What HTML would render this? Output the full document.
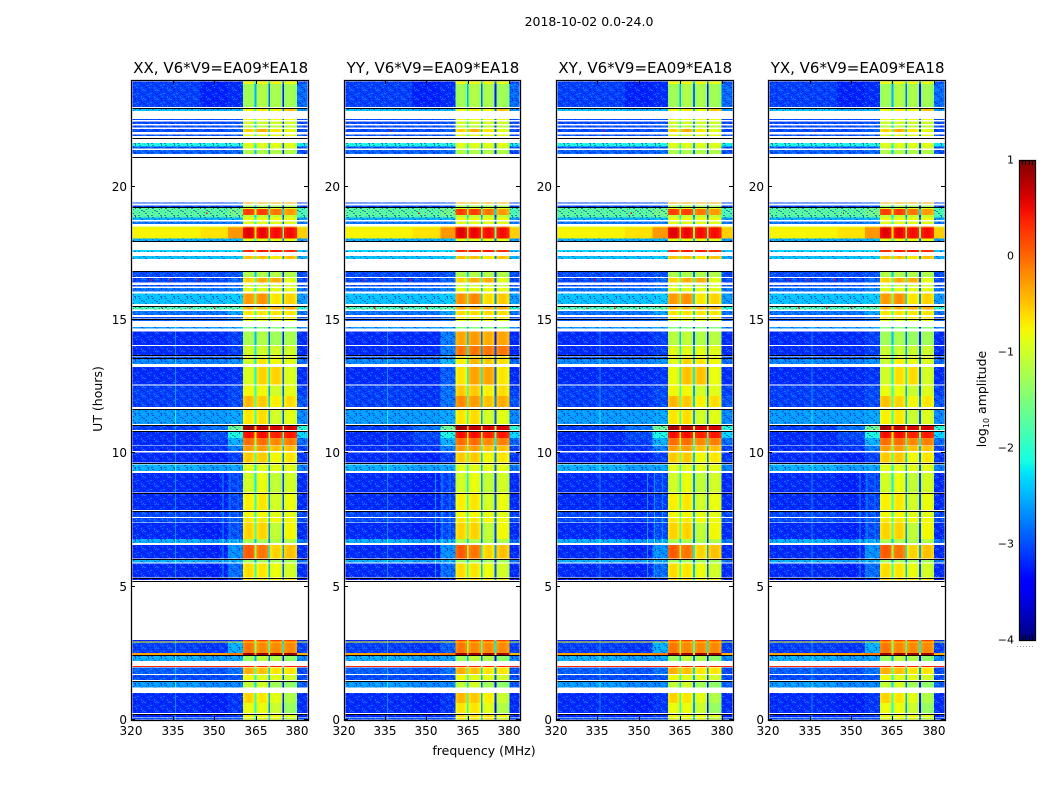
<!DOCTYPE html>
<html lang="en">
<head>
<meta charset="utf-8">
<title>2018-10-02 0.0-24.0</title>
<style>
html,body{margin:0;padding:0;background:#fff;width:1050px;height:800px;overflow:hidden}
svg{display:block}
text{font-family:"DejaVu Sans","Liberation Sans",sans-serif;fill:#000}
</style>
</head>
<body>
<svg id="chart" xmlns="http://www.w3.org/2000/svg" width="1050" height="800" viewBox="0 0 1050 800">
  <defs>
    <pattern id="speckle" width="13" height="9" patternUnits="userSpaceOnUse">
      <rect x="1" y="0" width="2" height="1" fill="#30b0ff" opacity=".45"/>
      <rect x="5" y="0" width="1" height="2" fill="#0000c8" opacity=".55"/>
      <rect x="9" y="1" width="2" height="1" fill="#0000c8" opacity=".5"/>
      <rect x="12" y="0" width="1" height="1" fill="#40d0ff" opacity=".45"/>
      <rect x="3" y="2" width="1" height="1" fill="#0000c8" opacity=".5"/>
      <rect x="7" y="3" width="2" height="1" fill="#40c0ff" opacity=".4"/>
      <rect x="11" y="3" width="2" height="1" fill="#0000d0" opacity=".5"/>
      <rect x="0" y="4" width="2" height="1" fill="#0000d0" opacity=".5"/>
      <rect x="4" y="4" width="2" height="1" fill="#30b0ff" opacity=".4"/>
      <rect x="9" y="5" width="1" height="1" fill="#0000c8" opacity=".5"/>
      <rect x="2" y="6" width="2" height="1" fill="#0000c8" opacity=".5"/>
      <rect x="6" y="6" width="1" height="1" fill="#50d0ff" opacity=".45"/>
      <rect x="11" y="6" width="1" height="2" fill="#50b0ff" opacity=".4"/>
      <rect x="0" y="8" width="1" height="1" fill="#50d0ff" opacity=".45"/>
      <rect x="4" y="8" width="2" height="1" fill="#0000c8" opacity=".5"/>
      <rect x="8" y="8" width="2" height="1" fill="#0000d0" opacity=".5"/>
    </pattern>
    <linearGradient id="jet-gradient" x1="0" y1="1" x2="0" y2="0"></linearGradient>
  </defs>
  <rect x="0" y="0" width="1050" height="800" fill="#fff"/>
  <text x="589" y="26" font-size="12.5" text-anchor="middle">2018-10-02 0.0-24.0</text>
  <text x="484" y="755" font-size="12.5" text-anchor="middle">frequency (MHz)</text>
  <text x="0" y="0" font-size="12.5" text-anchor="middle" transform="translate(102,399) rotate(-90)">UT (hours)</text>
  <text x="0" y="0" font-size="12.5" text-anchor="middle" transform="translate(986,399) rotate(-90)">log<tspan font-size="8" dy="3">10</tspan><tspan dy="-3"> amplitude</tspan></text>
  <g id="panels"></g>
  <g id="colorbar"></g>
</svg>
<script>
/* Panel titles and axis ticks */
const panelTitles = ["XX, V6*V9=EA09*EA18", "YY, V6*V9=EA09*EA18", "XY, V6*V9=EA09*EA18", "YX, V6*V9=EA09*EA18"];
const freqTicks = [320, 335, 350, 365, 380];
const utTicks = [0, 5, 10, 15, 20];
const colorbarTicks = [-4, -3, -2, -1, 0, 1];

/* Time bands with data, in UT hours */
const utRanges = [
[0,.05],[.05,.1],[.12,.22],[.27,.64],[.64,1.02],[1.21,1.43],[1.5,1.68],[1.73,1.97],[1.98,2.03],[2.22,2.4],
[2.44,2.52],[2.52,2.9],[2.9,2.94],[2.94,3],[5.25,5.31],[5.35,5.86],[5.9,6.03],[6.06,6.57],[6.63,6.78],[6.78,7.39],
[7.41,7.57],[7.62,7.83],[7.88,8.48],[8.54,9.26],[9.34,9.59],[9.65,10.04],[10.08,10.28],[10.3,10.58],[10.58,10.84],[10.88,11.05],
[11.1,11.65],[11.73,12.15],[12.15,12.54],[12.59,13.23],[13.35,13.54],[13.58,13.64],[13.69,14.03],[14.06,14.56],[14.69,14.74],[14.96,15.03],
[15.06,15.12],[15.19,15.34],[15.4,15.48],[15.6,16],[16.06,16.2],[16.25,16.31],[16.4,16.58],[16.62,16.82],[17.29,17.4],[17.55,17.63],
[17.97,18.06],[18.06,18.46],[18.46,18.51],[18.6,18.7],[18.75,18.84],[18.84,18.94],[18.94,19.16],[19.16,19.22],[19.22,19.3],[19.36,19.41],
[21.22,21.38],[21.44,21.5],[21.5,21.63],[21.9,21.95],[22.05,22.17],[22.22,22.3],[22.35,22.44],[22.5,22.54],[22.84,22.93],[22.99,23.85],[23.85,24]
];

/* Log10 amplitude outside the passband: 320-345, 345-355, 355-360.5, 380-384 MHz */
const offBandAmp = [
[-3,-3,-3,-3],[-3,-3,-3,-3],[-3.2,-3.2,-3.1,-3.2],[-3.15,-3.2,-3.1,-3.15],[-3.15,-3.2,-3.1,-3.15],[-2.6,-2.7,-2.7,-2.9],[-3,-3,-2.95,-3],[-2.9,-2.95,-2.8,-3],[.35,.35,.35,.35],[-2.5,-2.6,-2.55,-2.7],
[-.3,-.3,-.1,-.4],[-3.05,-3.1,-2.5,-3.05],[-.8,-.8,-.8,-1],[-3.2,-3.2,-3.1,-3.2],[-3.3,-3.3,-3.2,-3.3],[-3.15,-3.2,-2.85,-3.15],[-2.5,-2.6,-2.55,-2.8],[-3.15,-3.2,-2.65,-3.15],[-2.5,-2.6,-2.55,-2.8],[-3.15,-3.2,-3,-3.15],
[-3,-3.05,-2.95,-3],[-3,-3.05,-3,-3],[-3.15,-3.2,-3.05,-3.15],[-3.15,-3.2,-3.05,-3.15],[-2.5,-2.6,-2.55,-2.75],[-3.15,-3.2,-3.05,-3.1],[-3.15,-3.1,-2.75,-3.05],[-3.15,-3.05,-2.5,-2.85],[-3.15,-3,-2.1,-2.3],[-3.05,-2.8,-1.6,-2],
[-2.6,-2.6,-2.55,-2.7],[-3.05,-3.1,-3,-2.95],[-3.05,-3.1,-3,-3.05],[-3.15,-3.15,-3.1,-3.15],[-2.7,-2.75,-2.65,-2.85],[-3,-3,-2.9,-3],[-3.15,-3.15,-3.05,-3.15],[-3.15,-3.15,-3.05,-3.15],[-2.6,-2.6,-2.55,-2.7],[-2.9,-2.9,-2.8,-2.9],
[-3,-3,-2.85,-3],[-2.8,-2.8,-2.55,-2.8],[-1.8,-1.8,-1.7,-2],[-2.4,-2.4,-2.35,-2.6],[-2.8,-2.8,-2.7,-2.8],[-3,-3,-2.9,-3],[-3,-3,-2.85,-3],[-3,-3,-2.95,-3],[-2.4,-2.4,-2.35,-2.5],[-2.3,-2.3,-2.25,-2.4],
[-2.5,-2.5,-2.45,-2.6],[-.75,-.65,-.25,-.55],[-.9,-.85,-.6,-1],[-2.8,-2.8,-2.75,-2.8],[-2.5,-2.5,-2.45,-2.6],[-1.7,-1.7,-1.6,-1.8],[-1.7,-1.7,-1.55,-1.8],[-1.7,-1.7,-1.6,-1.8],[-3,-3,-2.95,-3],[-3,-3,-2.9,-3],
[-2.9,-2.9,-2.85,-3],[-3,-3,-2.95,-3],[-2.1,-2.1,-2.05,-2.2],[-3,-3,-2.95,-3],[-3,-3,-2.9,-3],[-3,-3,-2.95,-3],[-3,-3,-2.95,-3],[-3,-3,-2.95,-3],[-2.4,-2.5,-2.45,-2.6],[-3.05,-3.2,-3.15,-2.85],[-3.05,-3.2,-3.15,-2.95]
];

/* Log10 amplitude in the four passband subbands */
const subbandAmp = [
[-.9,-.9,-.9,-1.1],[-.9,-.9,-.9,-1.1],[-.8,-.8,-.8,-.9],[-.85,-.85,-1.05,-1.35],[-.6,-.7,-.9,-1.2],[-1.1,-1,-1.3,-1.4],[-.8,-.9,-.9,-1],[-.4,-.5,-.7,-.7],[.35,.35,.35,.35],[-1.3,-1.1,-1.2,-1.4],
[.85,.85,.85,.85],[-.1,-.2,-.2,-.2],[-.6,-.6,-.6,-.6],[.2,.2,.2,.2],[-.6,-.6,-.7,-.7],[-.65,-.7,-.85,-1],[-1.3,-1.3,-1.3,-1.3],[.05,-.1,-.6,-.5],[-1.2,-1.2,-1.2,-1.2],[-.6,-.6,-1.1,-.8],
[-.7,-.7,-.8,-.8],[-.8,-.8,-.9,-.9],[-.75,-.7,-1,-.85],[-1,-.85,-1.1,-1],[-.9,-.9,-.9,-.9],[-.55,-.55,-.8,-.7],[-.3,-.3,-.5,-.5],[-.05,-.05,-.2,-.15],[.45,.45,.35,.4],[.8,.7,.6,.6],
[-.7,-.65,-1,-.9],[-.45,-.55,-.75,-.65],[-.8,-.8,-1,-.9],[-.95,-.6,-.6,-.95],[-1,-.7,-.8,-.9],[-.9,-.9,-.9,-.9],[-1,-1,-1,-1],[-1.25,-1.2,-1.3,-1.25],[-1.5,-1.5,-1.5,-1.5],[-.9,-.9,-.9,-.9],
[-.7,-.7,-.7,-.7],[-.7,-.7,-.7,-.7],[-.4,-.4,-.4,-.4],[-.3,-.25,-.7,-.6],[-.9,-.9,-.9,-.9],[-1,-1,-1,-1],[-.6,-.4,-.4,-.9],[-1.2,-1.2,-1.2,-1.2],[-.5,-.5,-.7,-.5],[.3,.4,.4,.3],
[-.9,-.9,-.9,-.9],[.55,.5,.45,.45],[-.2,-.2,-.2,-.2],[-.9,-.9,-.9,-.9],[-.8,-.8,-.8,-.8],[-1.1,-1.1,-1.1,-1.1],[.2,.2,-.1,-.3],[-.9,-.9,-.9,-.9],[-1.3,-1.3,-1.3,-1.3],[-.4,-.4,-.4,-.4],
[-1.2,-1.2,-1.2,-1.2],[-1,-1,-1,-1],[-.9,-.9,-.9,-.9],[-.9,-.9,-.9,-.9],[-.6,-.4,-.7,-.9],[-1.1,-1.1,-1.1,-1.1],[-1,-1,-1,-1],[-.8,-.8,-.8,-.8],[-.8,-.7,-.8,-.5],[-1.3,-1.2,-1.25,-1.3],[-.8,-.8,-.8,-.85]
];

/* Flagged lines drawn black, in UT hours */
const flaggedLinesUT = [.24,1.45,2.42,5.22,5.325,6.05,7.84,8.51,9.62,10.84,11.06,11.68,13.575,13.67,15.04,15.52,16.83,17.96,19.22,21.11,21.825,22.95];

/* Frequency layout of the passband, in MHz */
const subbandStartMHz = [360.5, 365.3, 370.3, 375.3];
const subbandEndMHz = [364.7, 369.7, 374.7, 380];
const bandShape = [-.06, .03, .05, .02, -.08];
const channelDip = [-1.2, -1.6, -2];

/* Narrow interference lines */
const rfiFreq = [335.9, 353.2, 355.7, 358.6];
const rfiStartUT = [0, 5.3, 5.3, 5.3];
const rfiEndUT = [15, 9.3, 9.3, 9.3];
const rfiBoost = [.45, .5, .5, .4];

/* Per-polarization differences */
const boostPanel = [1, 1, 1, 1, 1, 2, 3, 1];
const boostStartUT = [11.7, 12.6, 13.69, 15.2, 0, 12.6, 11.1, 2.52];
const boostEndUT = [12.6, 13.69, 14.7, 16.2, 1.1, 14.7, 14.7, 2.9];
const boostAmp = [.25, .25, .9, .05, .15, .1, -.05, 0];
const boostEdgeAmp = [.2, .2, .3, 0, 0, 0, 0, -.4];

/* Hot pixels */
const hotFreq = [327, 334, 344, 350, 331, 341, 347, 337];
const hotUT = [16.5, 16.5, 16.5, 15.44, 15.44, 15.44, 19.0, 22.1];

const SVG_NS = "http://www.w3.org/2000/svg";
const FREQ_MIN = 320, FREQ_MAX = 384, UT_MAX = 24, AMP_MIN = -4, AMP_MAX = 1;
const PLOT_W = 176.6, PLOT_TOP = 80, PLOT_BOTTOM = 720;

function panelLeft(i) { return 131.4 + i * 212.3; }
function xScale(freq, i) { return panelLeft(i) + (freq - FREQ_MIN) * PLOT_W / (FREQ_MAX - FREQ_MIN); }
function yScale(ut) { return PLOT_BOTTOM - ut * (PLOT_BOTTOM - PLOT_TOP) / UT_MAX; }
function ampScale(a) { return 640 - (a - AMP_MIN) * 480 / (AMP_MAX - AMP_MIN); }

function interp(t, pts) {
  for (let k = 1; k < pts.length; k++) {
    if (t <= pts[k][0]) {
      const p = pts[k - 1], q = pts[k];
      return p[1] + (q[1] - p[1]) * (t - p[0]) / (q[0] - p[0]);
    }
  }
  return pts[pts.length - 1][1];
}
function jet(amp) {
  const t = Math.max(0, Math.min(1, (amp - AMP_MIN) / (AMP_MAX - AMP_MIN)));
  const r = interp(t, [[0,0],[.35,0],[.66,1],[.89,1],[1,.5]]);
  const g = interp(t, [[0,0],[.125,0],[.375,1],[.64,1],[.91,0],[1,0]]);
  const b = interp(t, [[0,.5],[.11,1],[.34,1],[.65,0],[1,0]]);
  return "rgb(" + Math.round(r * 255) + "," + Math.round(g * 255) + "," + Math.round(b * 255) + ")";
}
function make(tag, parent, attrs) {
  const el = document.createElementNS(SVG_NS, tag);
  for (const k in attrs) el.setAttribute(k, attrs[k]);
  parent.appendChild(el);
  return el;
}
function cell(parent, i, f0, f1, ut0, ut1, amp) {
  const el = make("rect", parent, {
    x: xScale(f0, i), y: yScale(ut1),
    width: xScale(f1, i) - xScale(f0, i), height: yScale(ut0) - yScale(ut1),
    fill: jet(amp), "shape-rendering": "crispEdges"
  });
  
  
  return el;
}
function panelBoost(i, ut, list) {
  let sum = 0;
  boostPanel.forEach(function (p, k) {
    if (p === i && ut >= boostStartUT[k] && ut < boostEndUT[k]) sum += list[k];
  });
  return sum;
}

const panelsRoot = document.getElementById("panels");
panelTitles.forEach(function (title, i) {
  const g = make("g", panelsRoot, {});
  
  

  const bg = make("rect", g, { x: panelLeft(i), y: PLOT_TOP, width: PLOT_W, height: PLOT_BOTTOM - PLOT_TOP, fill: "#fff" });
  
  

  utRanges.forEach(function (range, r) {
    const ut0 = range[0], ut1 = range[1], mid = (ut0 + ut1) / 2;
    const off = offBandAmp[r], sub = subbandAmp[r];
    const bandBoost = panelBoost(i, mid, boostAmp);
    const edgeBoost = panelBoost(i, mid, boostEdgeAmp);
    cell(g, i, 320, 345, ut0, ut1, off[0]);
    cell(g, i, 345, 355, ut0, ut1, off[1]);
    cell(g, i, 355, 360.5, ut0, ut1, off[2] + edgeBoost);
    cell(g, i, 380, 384, ut0, ut1, off[3]);
    if (off[0] < -1.5) {
      const tex = make("rect", g, {
        x: xScale(320, i), y: yScale(ut1),
        width: xScale(360.5, i) - xScale(320, i), height: yScale(ut0) - yScale(ut1),
        fill: "url(#speckle)", "shape-rendering": "crispEdges"
      });
      
      
      const tex2 = make("rect", g, {
        x: xScale(380, i), y: yScale(ut1),
        width: xScale(384, i) - xScale(380, i), height: yScale(ut0) - yScale(ut1),
        fill: "url(#speckle)", "shape-rendering": "crispEdges"
      });
      
      
    }
    rfiFreq.forEach(function (f, k) {
      if (mid >= rfiStartUT[k] && mid < rfiEndUT[k] && off[0] < -2) {
        cell(g, i, f - .18, f + .18, ut0, ut1, off[0] + rfiBoost[k]);
      }
    });
    subbandStartMHz.forEach(function (f0, s) {
      const f1 = subbandEndMHz[s];
      const step = (f1 - f0) / bandShape.length;
      bandShape.forEach(function (shape, c) {
        cell(g, i, f0 + c * step, f0 + (c + 1) * step, ut0, ut1, sub[s] + shape + bandBoost);
      });
      if (s < channelDip.length) {
        cell(g, i, f1, subbandStartMHz[s + 1], ut0, ut1, Math.min(sub[s], sub[s + 1]) + channelDip[s]);
      }
    });
  });

  hotFreq.forEach(function (f, k) {
    const hot = cell(g, i, f, f + .5, hotUT[k] - .03, hotUT[k] + .03, .55);
    
  });

  flaggedLinesUT.forEach(function (ut) {
    const line = make("rect", g, {
      x: Math.round(xScale(320, i)), y: Math.round(yScale(ut)),
      width: Math.round(PLOT_W), height: 1, fill: "#000", "shape-rendering": "crispEdges"
    });
    
    
  });

  const l = Math.round(panelLeft(i)), rgt = Math.round(panelLeft(i) + PLOT_W);

  const halo = make("rect", g, { x: l + .5, y: PLOT_TOP + .5, width: rgt - l, height: PLOT_BOTTOM - PLOT_TOP, fill: "none", stroke: "#bbb", "stroke-width": 2 });
  
  
  const frame = make("rect", g, { x: l + .5, y: PLOT_TOP + .5, width: rgt - l, height: PLOT_BOTTOM - PLOT_TOP, fill: "none", stroke: "#000", "stroke-width": 1, "shape-rendering": "crispEdges" });
  
  

  freqTicks.forEach(function (f) {
    const x = Math.round(xScale(f, i)) + .5;
    const t1 = make("line", g, { x1: x, x2: x, y1: PLOT_BOTTOM, y2: PLOT_BOTTOM - 4, stroke: "#000" });
    
    
    const t2 = make("line", g, { x1: x, x2: x, y1: PLOT_TOP, y2: PLOT_TOP + 4, stroke: "#000" });
    
    
    const lab = make("text", g, { x: x - .5, y: 735, "font-size": 12, "text-anchor": "middle" });
    lab.textContent = f;
    
    
  });
  utTicks.forEach(function (ut) {
    const y = Math.round(yScale(ut)) - .5;
    const t1 = make("line", g, { x1: l, x2: l + 4, y1: y, y2: y, stroke: "#000" });
    
    
    const t2 = make("line", g, { x1: rgt, x2: rgt - 4, y1: y, y2: y, stroke: "#000" });
    
    
    const lab = make("text", g, { x: l - 4, y: y + 4.5, "font-size": 12, "text-anchor": "end" });
    lab.textContent = ut;
    
    
  });

  const ttl = make("text", g, { x: panelLeft(i) + PLOT_W / 2 + 1, y: 73, "font-size": 15, "text-anchor": "middle" });
  ttl.textContent = title;
  
  
});

/* Colorbar */
const grad = document.getElementById("jet-gradient");
for (let s = 0; s <= 40; s++) {
  const stop = make("stop", grad, { offset: (s / 40), "stop-color": jet(AMP_MIN + (AMP_MAX - AMP_MIN) * s / 40) });
}
const cb = document.getElementById("colorbar");
const cbHalo = make("rect", cb, { x: 1019.5, y: 160.5, width: 16, height: 480, fill: "none", stroke: "#bbb", "stroke-width": 2 });


const cbRamp = make("rect", cb, { x: 1019.5, y: 160.5, width: 16, height: 480, fill: "url(#jet-gradient)", stroke: "#000", "stroke-width": 1, "shape-rendering": "crispEdges" });


colorbarTicks.forEach(function (a) {
  const lab = make("text", cb, { x: 1014, y: ampScale(a) + 3.5, "font-size": 11, "text-anchor": "end" });
  lab.textContent = String(a).replace("-", "\u2212");
  
  
  [1022.5, 1025.5, 1029.5, 1032.5].forEach(function (x) {
    if (a === AMP_MIN || a === AMP_MAX) {
      const y = ampScale(a);
      const tick = make("line", cb, { x1: x, x2: x, y1: y, y2: a === AMP_MIN ? y - 5 : y + 5, stroke: "#000" });
      
      
    }
  });
});
const dots = make("line", cb, { x1: 1017, x2: 1035, y1: 646.5, y2: 646.5, stroke: "#999", "stroke-dasharray": "1 2" });


</script>
</body>
</html>
